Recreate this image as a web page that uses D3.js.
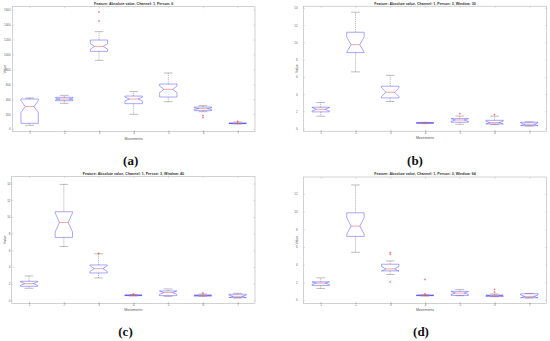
<!DOCTYPE html>
<html><head><meta charset="utf-8">
<script src="https://cdn.jsdelivr.net/npm/d3@7/dist/d3.min.js"></script>
<style>html,body{margin:0;padding:0;background:#fff;}svg{display:block;}</style>
</head><body>
<svg id="chart" width="550" height="341"></svg>
<script>
// ---------------- DATA ----------------
const movements = [1, 2, 3, 4, 5, 6, 7];
const captions = ["(a)", "(b)", "(c)", "(d)"];
const titles = [
  "Feature: Absolute value, Channel: 1, Person: 6",
  "Feature: Absolute value, Channel: 1, Person: 3, Window: 30",
  "Feature: Absolute value, Channel: 1, Person: 3, Window: 40",
  "Feature: Absolute value, Channel: 1, Person: 3, Window: 64"
];
const xLabel = "Movements";
const yLabel = "Value";

// y tick labels
const aTicks = [0, 200, 400, 600, 800, 1000, 1200, 1400, 1600];
const bTicks = [0, 2, 4, 6, 8, 10, 12, 14];
const cTicks = [0, 2, 4, 6, 8, 10, 12, 14];
const dTicks = [0, 2, 4, 6, 8, 10, 12];

// observations per group (drives notch size)
const nObs = [40, 18, 18, 20];

// (a) Person 6
const aLow  = [49, 344, 921, 197, 366, 232, 67];
const aQ1   = [76, 380, 1041, 340, 429, 246, 72];
const aMed  = [300, 402, 1108, 402, 532, 273, 76];
const aQ3   = [402, 425, 1193, 442, 603, 295, 80];
const aHigh = [416, 451, 1305, 501, 751, 313, 94];
const aOut  = [[], [], [1569, 1448], [], [], [179, 152], [103]];

// (b) Person 3, Window 30
const bLow  = [1.44, 6.58, 3.14, 0.58, 0.50, 0.46, 0.30];
const bQ1   = [1.94, 8.82, 3.56, 0.62, 0.74, 0.54, 0.34];
const bMed  = [2.24, 9.74, 4.22, 0.66, 1.00, 0.70, 0.50];
const bQ3   = [2.48, 11.18, 4.92, 0.70, 1.16, 0.96, 0.74];
const bHigh = [3.02, 13.50, 6.18, 0.74, 1.46, 1.44, 0.78];
const bOut  = [[], [], [], [], [1.74], [1.62], []];

// (c) Person 3, Window 40
const cLow  = [1.44, 6.46, 2.68, 0.52, 0.48, 0.48, 0.28];
const cQ1   = [1.68, 7.54, 3.28, 0.56, 0.56, 0.52, 0.32];
const cMed  = [2.00, 9.34, 3.80, 0.60, 0.92, 0.56, 0.48];
const cQ3   = [2.28, 10.62, 4.24, 0.64, 1.12, 0.64, 0.72];
const cHigh = [2.92, 13.90, 5.58, 0.68, 1.36, 0.76, 0.84];
const cOut  = [[], [], [5.62], [0.76], [], [0.88], []];

// (d) Person 3, Window 64
const dLow  = [1.31, 5.40, 2.89, 0.45, 0.49, 0.38, 0.23];
const dQ1   = [1.65, 7.20, 3.30, 0.49, 0.53, 0.41, 0.26];
const dMed  = [1.91, 8.37, 3.53, 0.53, 0.79, 0.49, 0.41];
const dQ3   = [2.06, 9.87, 4.05, 0.56, 0.98, 0.56, 0.71];
const dHigh = [2.51, 13.02, 4.43, 0.60, 1.20, 0.68, 0.75];
const dOut  = [[], [], [5.37, 5.18, 2.06], [2.33, 0.71], [], [1.20, 0.90], []];

// ---------------- LAYOUT ----------------
const layout = [
  {l: 12.3, r: 255, t: 6.7, b: 131.7, yDom: [-36, 1640], titleY: 4.9, capX: 130.7, capY: 164.5, yLabX: 5.6, lblPad: 1.6},
  {l: 303.3, r: 546.7, t: 6.2, b: 131.2, yDom: [-0.3, 14.2], titleY: 4.9, capX: 415, capY: 164.5, yLabX: 297.8, lblPad: 5.6},
  {l: 11.7, r: 255, t: 176.3, b: 303.3, yDom: [-0.36, 14.87], titleY: 175.2, capX: 125.5, capY: 336, yLabX: 5.6, lblPad: 1.2},
  {l: 303.3, r: 546.7, t: 177, b: 303.3, yDom: [-0.37, 13.92], titleY: 175.2, capX: 421, capY: 336, yLabX: 297.8, lblPad: 5.6}
];

const panels = [
  {ticks: aTicks, low: aLow, q1: aQ1, med: aMed, q3: aQ3, high: aHigh, out: aOut},
  {ticks: bTicks, low: bLow, q1: bQ1, med: bMed, q3: bQ3, high: bHigh, out: bOut},
  {ticks: cTicks, low: cLow, q1: cQ1, med: cMed, q3: cQ3, high: cHigh, out: cOut},
  {ticks: dTicks, low: dLow, q1: dQ1, med: dMed, q3: dQ3, high: dHigh, out: dOut}
];

const svg = d3.select("#chart");
const FONT = "'Liberation Sans', Arial, Helvetica, sans-serif";
const frameCol = "#b4b4b4";

panels.forEach((p, i) => {
  const L = layout[i];
  const g = svg.append("g");
  const x = d3.scaleLinear().domain([0.5, 7.5]).range([L.l, L.r]);
  const y = d3.scaleLinear().domain(L.yDom).range([L.b, L.t]);
  const step = x(2) - x(1);
  const bw = step * 0.5;

  // frame
  g.append("rect").attr("x", L.l).attr("y", L.t).attr("width", L.r - L.l).attr("height", L.b - L.t)
    .attr("fill", "none").attr("stroke", frameCol).attr("stroke-width", 0.6);

  // axes (ticks inside)
  const yAxis = d3.axisLeft(y).tickValues(p.ticks).tickSize(-1.6).tickPadding(L.lblPad).tickFormat(d3.format("d"));
  const gy = g.append("g").attr("transform", `translate(${L.l},0)`).call(yAxis);
  const yAxisR = d3.axisRight(y).tickValues(p.ticks).tickSize(-1.6).tickFormat("");
  const gyr = g.append("g").attr("transform", `translate(${L.r},0)`).call(yAxisR);
  const xAxis = d3.axisBottom(x).tickValues(movements).tickSize(-1.6).tickPadding(0.6).tickFormat(d3.format("d"));
  const gx = g.append("g").attr("transform", `translate(0,${L.b})`).call(xAxis);
  const xAxisT = d3.axisTop(x).tickValues(movements).tickSize(-1.6).tickFormat("");
  const gxt = g.append("g").attr("transform", `translate(0,${L.t})`).call(xAxisT);
  [gy, gyr, gx, gxt].forEach(a => {
    a.select(".domain").remove();
    a.selectAll("line").attr("stroke", frameCol).attr("stroke-width", 0.45);
    a.selectAll("text").attr("font-family", FONT).attr("font-size", 3.0).attr("fill", "#666");
  });

  // title
  g.append("text").attr("x", (L.l + L.r) / 2).attr("y", L.titleY).attr("text-anchor", "middle")
    .attr("font-family", FONT).attr("font-size", 3.6).attr("font-weight", "bold").attr("fill", "#333")
    .text(titles[i]);
  // x label
  g.append("text").attr("x", (L.l + L.r) / 2).attr("y", L.b + 7.8).attr("text-anchor", "middle")
    .attr("font-family", FONT).attr("font-size", 3.5).attr("fill", "#555").text(xLabel);
  // y label
  g.append("text").attr("transform", `translate(${L.yLabX},${(L.t + L.b) / 2}) rotate(-90)`)
    .attr("text-anchor", "middle").attr("font-family", FONT).attr("font-size", 3.5).attr("fill", "#555").text(yLabel);
  // caption
  g.append("text").attr("x", L.capX).attr("y", L.capY).attr("text-anchor", "middle")
    .attr("font-family", "'Liberation Serif', 'Times New Roman', serif").attr("font-size", 13)
    .attr("font-weight", "bold").attr("fill", "#111").text(captions[i]);

  // boxes
  movements.forEach((m, k) => {
    const cx = x(m);
    const left = cx - bw / 2, right = cx + bw / 2, nw = bw / 4;
    const iqr = p.q3[k] - p.q1[k];
    const half = 1.57 * iqr / Math.sqrt(nObs[i]);
    const nlo = p.med[k] - half, nhi = p.med[k] + half;

    // whiskers
    g.append("line").attr("x1", cx).attr("x2", cx).attr("y1", y(p.q3[k])).attr("y2", y(p.high[k]))
      .attr("stroke", "#555").attr("stroke-width", 0.4).attr("stroke-dasharray", "1.2,0.8");
    g.append("line").attr("x1", cx).attr("x2", cx).attr("y1", y(p.q1[k])).attr("y2", y(p.low[k]))
      .attr("stroke", "#555").attr("stroke-width", 0.4).attr("stroke-dasharray", "1.2,0.8");
    [p.high[k], p.low[k]].forEach(v => {
      g.append("line").attr("x1", cx - bw / 4).attr("x2", cx + bw / 4).attr("y1", y(v)).attr("y2", y(v))
        .attr("stroke", "#555").attr("stroke-width", 0.4);
    });

    // notched box
    const pts = [
      [left, y(p.q1[k])], [left, y(nlo)], [left + nw, y(p.med[k])], [left, y(nhi)], [left, y(p.q3[k])],
      [right, y(p.q3[k])], [right, y(nhi)], [right - nw, y(p.med[k])], [right, y(nlo)], [right, y(p.q1[k])]
    ];
    g.append("path").attr("d", d3.line()(pts) + "Z").attr("fill", "none")
      .attr("stroke", "#3c3cff").attr("stroke-width", 0.45);
    // median
    g.append("line").attr("x1", left + nw).attr("x2", right - nw).attr("y1", y(p.med[k])).attr("y2", y(p.med[k]))
      .attr("stroke", "#ff3030").attr("stroke-width", 0.45);
    // outliers
    p.out[k].forEach(v => {
      const oy = y(v), s = 1.0;
      g.append("path").attr("d", `M${cx - s},${oy}H${cx + s}M${cx},${oy - s}V${oy + s}`)
        .attr("stroke", "#ff3030").attr("stroke-width", 0.45);
    });
  });
});
</script>
</body></html>
